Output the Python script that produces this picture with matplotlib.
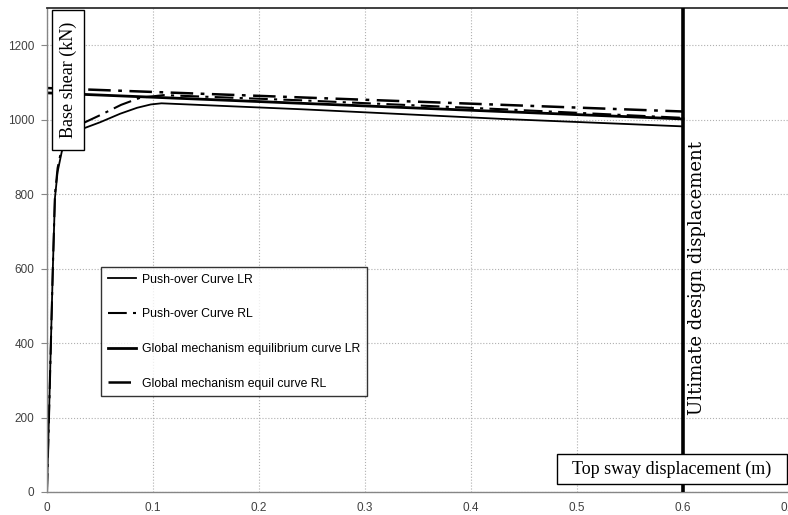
import matplotlib
matplotlib.use("Agg")
import matplotlib.pyplot as plt
from matplotlib.patches import Rectangle

# ---- data ----
pushover_lr_x = [0, 0.0055, 0.0075, 0.010, 0.014, 0.020, 0.027, 0.033, 0.050, 0.069, 0.085, 0.098, 0.108, 0.24, 0.43, 0.55, 0.60]
pushover_lr_y = [0, 600, 790, 860, 915, 945, 962, 975, 993, 1016, 1032, 1041, 1044, 1028, 1002, 988, 982]

pushover_rl_x = [0, 0.0055, 0.0075, 0.010, 0.014, 0.020, 0.027, 0.035, 0.050, 0.070, 0.088, 0.11, 0.24, 0.43, 0.60]
pushover_rl_y = [0, 600, 800, 870, 925, 960, 978, 992, 1012, 1040, 1059, 1066, 1052, 1028, 1005]

global_lr_x = [0, 0.60]
global_lr_y = [1072, 1002]

global_rl_x = [0, 0.60]
global_rl_y = [1085, 1022]

ultimate_disp = 0.6

x_ticks = [0, 0.1, 0.2, 0.3, 0.4, 0.5, 0.6, 0.7]
x_tick_labels = ["0", "0.1", "0.2", "0.3", "0.4", "0.5", "0.6", "0.7"]
y_ticks = [0, 200, 400, 600, 800, 1000, 1200]

labels = ["Push-over Curve LR", "Push-over Curve RL",
          "Global mechanism equilibrium curve LR", "Global mechanism equil curve RL"]

# ---- figure ----
W, H = 788, 515
fig = plt.figure(figsize=(W / 100, H / 100), dpi=100)
ax = fig.add_axes([47 / W, 1 - 492 / H, (789 - 47) / W, (492 - 8) / H])

dashdot = (0, (9, 3, 1.5, 3))
ax.plot(pushover_lr_x, pushover_lr_y, color="black", lw=1.3, ls="-", label=labels[0])
ax.plot(pushover_rl_x, pushover_rl_y, color="black", lw=1.5, ls=dashdot, label=labels[1])
ax.plot(global_lr_x, global_lr_y, color="black", lw=2.0, ls="-", label=labels[2])
ax.plot(global_rl_x, global_rl_y, color="black", lw=1.8, ls=dashdot, label=labels[3])

ax.axvline(ultimate_disp, color="black", lw=2.6, zorder=5)

ax.set_xlim(0, 0.7)
ax.set_ylim(0, 1300)
ax.set_xticks(x_ticks)
ax.set_xticklabels(x_tick_labels)
ax.set_yticks(y_ticks)

for lab in ax.get_xticklabels() + ax.get_yticklabels():
    lab.set_fontfamily("Liberation Sans")
    lab.set_fontsize(8.5)
    lab.set_color("#404040")
ax.tick_params(axis="x", length=0, pad=7)
ax.tick_params(axis="y", length=4, width=0.8, color="#868686", pad=5)

ax.grid(True, color="#b0b0b0", ls=":", lw=0.8)
ax.set_axisbelow(True)

for s in ["left", "bottom"]:
    ax.spines[s].set_color("#868686")
    ax.spines[s].set_linewidth(1.0)
ax.spines["top"].set_color("#303030")
ax.spines["top"].set_linewidth(1.3)
ax.spines["right"].set_visible(False)


def fig_box(x0, y0, x1, y1):
    r = Rectangle((x0 / W, 1 - y1 / H), (x1 - x0) / W, (y1 - y0) / H, transform=fig.transFigure,
                  facecolor="white", edgecolor="black", linewidth=1.0, zorder=6)
    fig.add_artist(r)


fig_box(52, 10, 84, 150)
fig.text(68 / W, 1 - 80 / H, "Base shear (kN)", rotation=90, ha="center", va="center",
         family="Liberation Serif", fontsize=13, zorder=7)
fig_box(557, 454, 787, 484)
fig.text(672 / W, 1 - 469 / H, "Top sway displacement (m)", ha="center", va="center",
         family="Liberation Serif", fontsize=13, zorder=7)
ax.text((697 - 47) / 1060, (492 - 278) / 0.3723, "Ultimate design displacement", rotation=90,
        ha="center", va="center", family="DejaVu Serif", fontsize=13, zorder=6)

leg = ax.legend(loc="upper left", bbox_to_anchor=(101 / W, 1 - 267 / H), bbox_transform=fig.transFigure,
                borderaxespad=0, frameon=True, fancybox=False, edgecolor="black",
                prop=dict(family="Liberation Sans", size=8.8), labelspacing=1.85,
                handlelength=2.3, handletextpad=0.5, borderpad=0.55)
leg.get_frame().set_linewidth(1.0)
leg.set_zorder(7)

fig.savefig("out.png", dpi=100)
